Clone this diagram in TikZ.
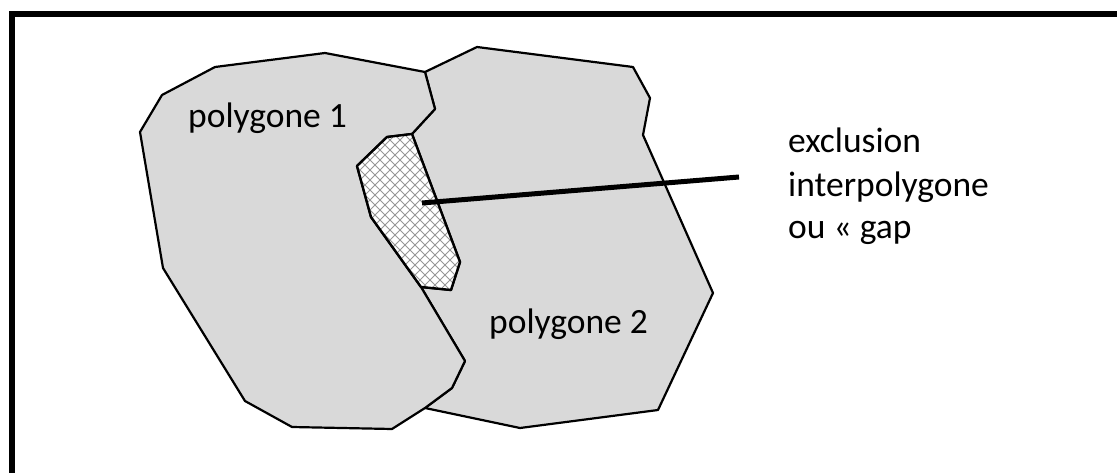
\documentclass[tikz,border=0pt]{standalone}
\usepackage{fontspec}
\setmainfont{Carlito}
\definecolor{polyfill}{RGB}{217,217,217}
\definecolor{hatchcol}{RGB}{150,150,150}
\begin{document}
\begin{tikzpicture}[x=1pt,y=-1pt,
  polystyle/.style={fill=polyfill,draw=black,line width=2.2pt,line join=round},
  gapstyle/.style={draw=black,line width=2.4pt,line join=round},
  hatch/.style={draw=hatchcol,line width=1pt},
  lbl/.style={inner sep=0pt,anchor=base west,font=\fontsize{35.5}{43}\selectfont},
  pointer/.style={draw=black,line width=5pt}]
\useasboundingbox (0,0) rectangle (1117,473);
% frame (top and left sides)
\draw[line width=6pt,line join=miter] (12,480) -- (12,14) -- (1125,14);
% polygon 2
\draw[polystyle] (425,72) -- (477,47) -- (633,67) -- (650,98) -- (643,135) -- (713,293)
  -- (658,410) -- (520,428) -- (425,408) -- (452,388) -- (465,361) -- (421,287)
  -- (451,290) -- (460,262) -- (412,134) -- (435,109) -- cycle;
% polygon 1
\draw[polystyle] (140,132) -- (162,95) -- (215,67) -- (325,53) -- (425,72) -- (435,109)
  -- (412,134) -- (387,137) -- (357,166) -- (371,217) -- (421,287) -- (465,361)
  -- (452,388) -- (425,408) -- (392,429) -- (292,427) -- (245,401) -- (163,268) -- cycle;
% gap corners
\coordinate (g1) at (412,134);
\coordinate (g2) at (387,137);
\coordinate (g3) at (357,166);
\coordinate (g4) at (371,217);
\coordinate (g5) at (421,287);
\coordinate (g6) at (451,290);
\coordinate (g7) at (460,262);
\fill[white] (g1) -- (g2) -- (g3) -- (g4) -- (g5) -- (g6) -- (g7) -- cycle;
\begin{scope}
  \clip (g1) -- (g2) -- (g3) -- (g4) -- (g5) -- (g6) -- (g7) -- cycle;
  \foreach \c in {50,60,...,340} {\draw[hatch] (\c+100,100) -- (\c+300,300);}
  \foreach \c in {500,510,...,760} {\draw[hatch] (\c-100,100) -- (\c-300,300);}
\end{scope}
\draw[gapstyle] (g1) -- (g2) -- (g3) -- (g4) -- (g5) -- (g6) -- (g7) -- cycle;
% pointer
\coordinate (gapin) at (422,203);
\coordinate (lblend) at (739,177);
\draw[pointer] (gapin) -- (lblend);
% labels
\node[lbl] (p1) at (188,128) {polygone 1};
\node[lbl] (p2) at (489,334) {polygone 2};
\node[lbl] (e1) at (788,153) {exclusion};
\node[lbl] (e2) at (788,197) {interpolygone};
\node[lbl] (e3) at (788,239) {ou « gap};
\end{tikzpicture}
\end{document}
